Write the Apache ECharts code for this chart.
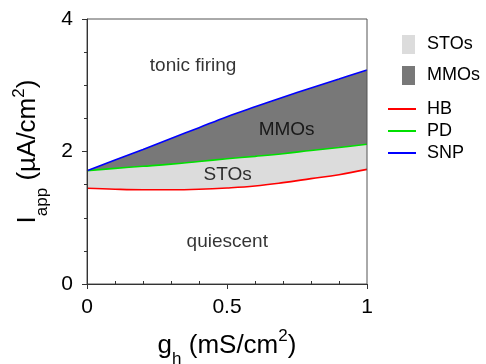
<!DOCTYPE html>
<html><head><meta charset="utf-8">
<script src="https://cdn.jsdelivr.net/npm/echarts@6/dist/echarts.min.js"></script>
<style>html,body{margin:0;padding:0;background:#fff}#c{width:486px;height:364px}</style>
</head><body><div id="c"></div>
<script>
const gh = [0, 0.1, 0.2, 0.3, 0.4, 0.5, 0.6, 0.7, 0.8, 0.9, 1.0];
const hb = [1.445, 1.43, 1.422, 1.422, 1.43, 1.45, 1.48, 1.53, 1.59, 1.65, 1.73];
const pd = [1.71, 1.745, 1.777, 1.81, 1.85, 1.89, 1.927, 1.967, 2.015, 2.06, 2.11];
const snp = [1.71, 1.87, 2.03, 2.195, 2.36, 2.525, 2.675, 2.82, 2.96, 3.095, 3.23];
const regionNames = ['tonic firing', 'MMOs', 'STOs', 'quiescent'];
const regionX = [0.379, 0.713, 0.502, 0.501];
const regionY = [3.29, 2.33, 1.65, 0.64];

const FF = 'Liberation Sans, Arial, sans-serif';
const pair = arr => gh.map((x, i) => [x, arr[i]]);
const rich = {
  m: {fontSize: 26, fontFamily: FF, color: '#000'},
  sub: {fontSize: 17, fontFamily: FF, color: '#000', padding: [28, 0, 0, 0]},
  sup: {fontSize: 17, fontFamily: FF, color: '#000', padding: [0, 0, 18, 0]}
};
const chart = echarts.init(document.getElementById('c'));
chart.setOption({
  animation: false,
  grid: {left: 87, right: 119, top: 19, bottom: 80, containLabel: false, outerBoundsMode: 'none',
    show: true, borderColor: '#555', borderWidth: 1, z: 5},
  xAxis: [{
    type: 'value', min: 0, max: 1, interval: 0.5, z: 10,
    axisLine: {lineStyle: {color: '#333', width: 1}},
    axisTick: {show: true, length: 5, lineStyle: {color: '#333'}},
    minorTick: {show: false},
    splitLine: {show: false},
    axisLabel: {fontSize: 21, fontFamily: FF, color: '#000', margin: 13},
    name: '{m|g}{sub|h}{m| (mS/cm}{sup|2}{m|)}',
    nameLocation: 'middle', nameGap: 39,
    nameTextStyle: {rich: rich}
  }, {
    type: 'value', min: 0, max: 1, interval: 0.5, position: 'bottom', z: 10,
    axisLine: {show: false},
    axisTick: {show: false, inside: true},
    minorTick: {show: true, splitNumber: 5, length: 3, lineStyle: {color: '#333'}},
    axisLabel: {show: false}, splitLine: {show: false}
  }],
  yAxis: {
    type: 'value', min: 0, max: 4, interval: 2, z: 10,
    axisLine: {show: true, lineStyle: {color: '#333', width: 1}},
    axisTick: {show: true, length: 5, lineStyle: {color: '#333'}},
    minorTick: {show: true, splitNumber: 4, length: 3, lineStyle: {color: '#333'}},
    splitLine: {show: false},
    axisLabel: {fontSize: 21, fontFamily: FF, color: '#000', margin: 14},
    name: '{m|I}{sub|app}{m| (µA/cm}{sup|2}{m|)}',
    nameLocation: 'middle', nameGap: 27, nameRotate: 90,
    nameTextStyle: {rich: rich}
  },
  legend: [{
    left: 397, top: 30, orient: 'vertical', itemWidth: 13, itemHeight: 19, itemGap: 12,
    icon: 'rect',
    textStyle: {fontSize: 18, fontFamily: FF, color: '#000', padding: [0, 0, 0, 7]},
    data: [{name: 'STOs', itemStyle: {color: '#dcdcdc'}}, {name: 'MMOs', itemStyle: {color: '#787878'}}]
  }, {
    left: 383, top: 95, orient: 'vertical', itemWidth: 28, itemHeight: 2, itemGap: 4,
    icon: 'rect',
    textStyle: {fontSize: 18, fontFamily: FF, color: '#000', padding: [0, 0, 0, 6]},
    data: [{name: 'HB', itemStyle: {color: '#ff0000'}}, {name: 'PD', itemStyle: {color: '#00e000'}}, {name: 'SNP', itemStyle: {color: '#0000ff'}}]
  }],
  series: [
    {name: 'MMOs', type: 'line', data: pair(snp), symbol: 'none', silent: true, smooth: 0.4, z: 1,
      color: '#787878', lineStyle: {width: 0, opacity: 0}, areaStyle: {color: '#787878', opacity: 1, origin: 'start'}},
    {name: 'STOs', type: 'line', data: pair(pd), symbol: 'none', silent: true, smooth: 0.4, z: 1,
      color: '#dcdcdc', lineStyle: {width: 0, opacity: 0}, areaStyle: {color: '#dcdcdc', opacity: 1, origin: 'start'}},
    {name: 'below', type: 'line', data: pair(hb), symbol: 'none', silent: true, smooth: 0.4, z: 1,
      color: '#ffffff', lineStyle: {width: 0, opacity: 0}, areaStyle: {color: '#ffffff', opacity: 1, origin: 'start'}},
    {name: 'HB', type: 'line', data: pair(hb), symbol: 'none', smooth: 0.4, z: 3, color: '#ff0000', lineStyle: {width: 1.6, color: '#ff0000'}},
    {name: 'PD', type: 'line', data: pair(pd), symbol: 'none', smooth: 0.4, z: 3, color: '#00e000', lineStyle: {width: 1.6, color: '#00e000'}},
    {name: 'SNP', type: 'line', data: pair(snp), symbol: 'none', smooth: 0.4, z: 3, color: '#0000ff', lineStyle: {width: 1.6, color: '#0000ff'}},
    {name: 'regions', type: 'scatter', symbolSize: 1, z: 4, itemStyle: {color: 'rgba(0,0,0,0)'}, silent: true,
      data: regionNames.map((n, i) => ({name: n, value: [regionX[i], regionY[i]]})),
      label: {show: true, position: 'inside', formatter: '{b}', fontSize: 19, fontFamily: FF, color: '#000', textBorderWidth: 0}}
  ]
});
</script></body></html>
